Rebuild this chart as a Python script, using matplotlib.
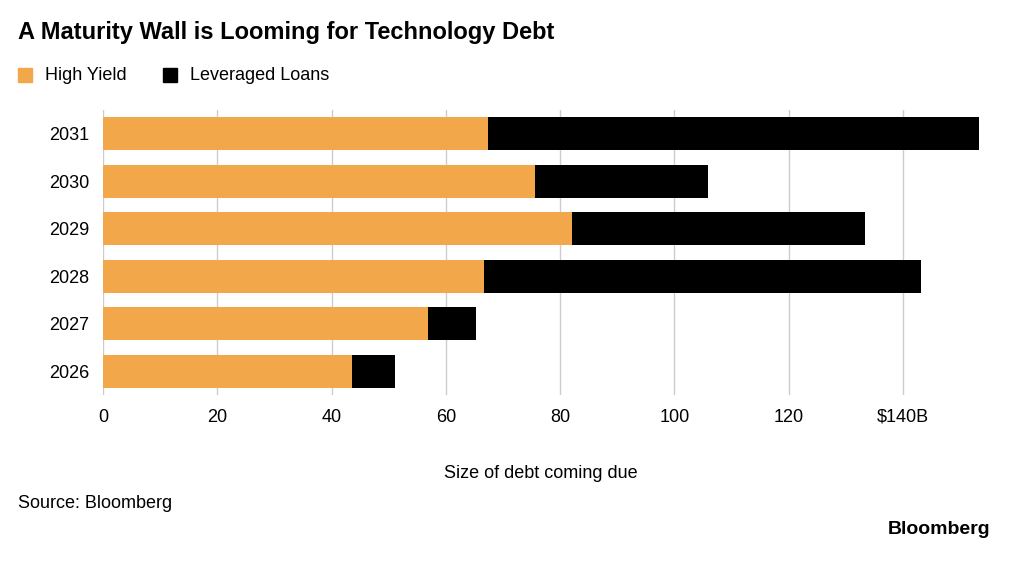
import matplotlib
matplotlib.use("Agg")
import matplotlib.pyplot as plt
from matplotlib.patches import Rectangle

plt.rcParams['font.family'] = ['Liberation Sans', 'DejaVu Sans']

years = ["2026", "2027", "2028", "2029", "2030", "2031"]
high_yield = [43.6, 56.9, 66.7, 82.1, 75.6, 67.4]
totals = [51.1, 65.3, 143.2, 133.4, 105.9, 153.3]
lev_loans = [t - h for t, h in zip(totals, high_yield)]
ticks = [0, 20, 40, 60, 80, 100, 120, 140]
tick_labels = ["0", "20", "40", "60", "80", "100", "120", "$140B"]

fig = plt.figure(figsize=(10.24, 5.66), dpi=100)
ax = fig.add_axes([103/1024, 1-395/566, (979-103)/1024, (395-110)/566])
orange = "#f2a74a"
ax.barh(years, high_yield, height=0.7, color=orange)
ax.barh(years, lev_loans, left=high_yield, height=0.7, color="black")
ax.set_xlim(0, 153.3)
ax.set_ylim(-0.5, 5.5)
ax.set_xticks(ticks)
ax.set_xticklabels(tick_labels, fontsize=13)
ax.tick_params(axis='y', labelsize=13, length=0, pad=10)
ax.tick_params(axis='x', length=0, pad=10)
ax.grid(axis='x', color='#cccccc', linewidth=1)
ax.set_axisbelow(True)
for s in ax.spines.values():
    s.set_visible(False)
ax.set_xlabel("Size of debt coming due", fontsize=13, labelpad=28)

fig.text(18/1024, 1-32/566, "A Maturity Wall is Looming for Technology Debt",
         fontsize=17, fontweight='bold', va='center')
fig.patches.append(Rectangle((18/1024, 1-82/566), 14/1024, 14/566, color=orange, transform=fig.transFigure))
fig.text(45/1024, 1-75/566, "High Yield", fontsize=13, va='center')
fig.patches.append(Rectangle((163/1024, 1-82/566), 14/1024, 14/566, color="black", transform=fig.transFigure))
fig.text(190/1024, 1-75/566, "Leveraged Loans", fontsize=13, va='center')
fig.text(18/1024, 1-503/566, "Source: Bloomberg", fontsize=13, va='center')
fig.text(990/1024, 1-529/566, "Bloomberg", fontsize=14, fontweight='bold', ha='right', va='center')
fig.savefig("out.png", dpi=100)
